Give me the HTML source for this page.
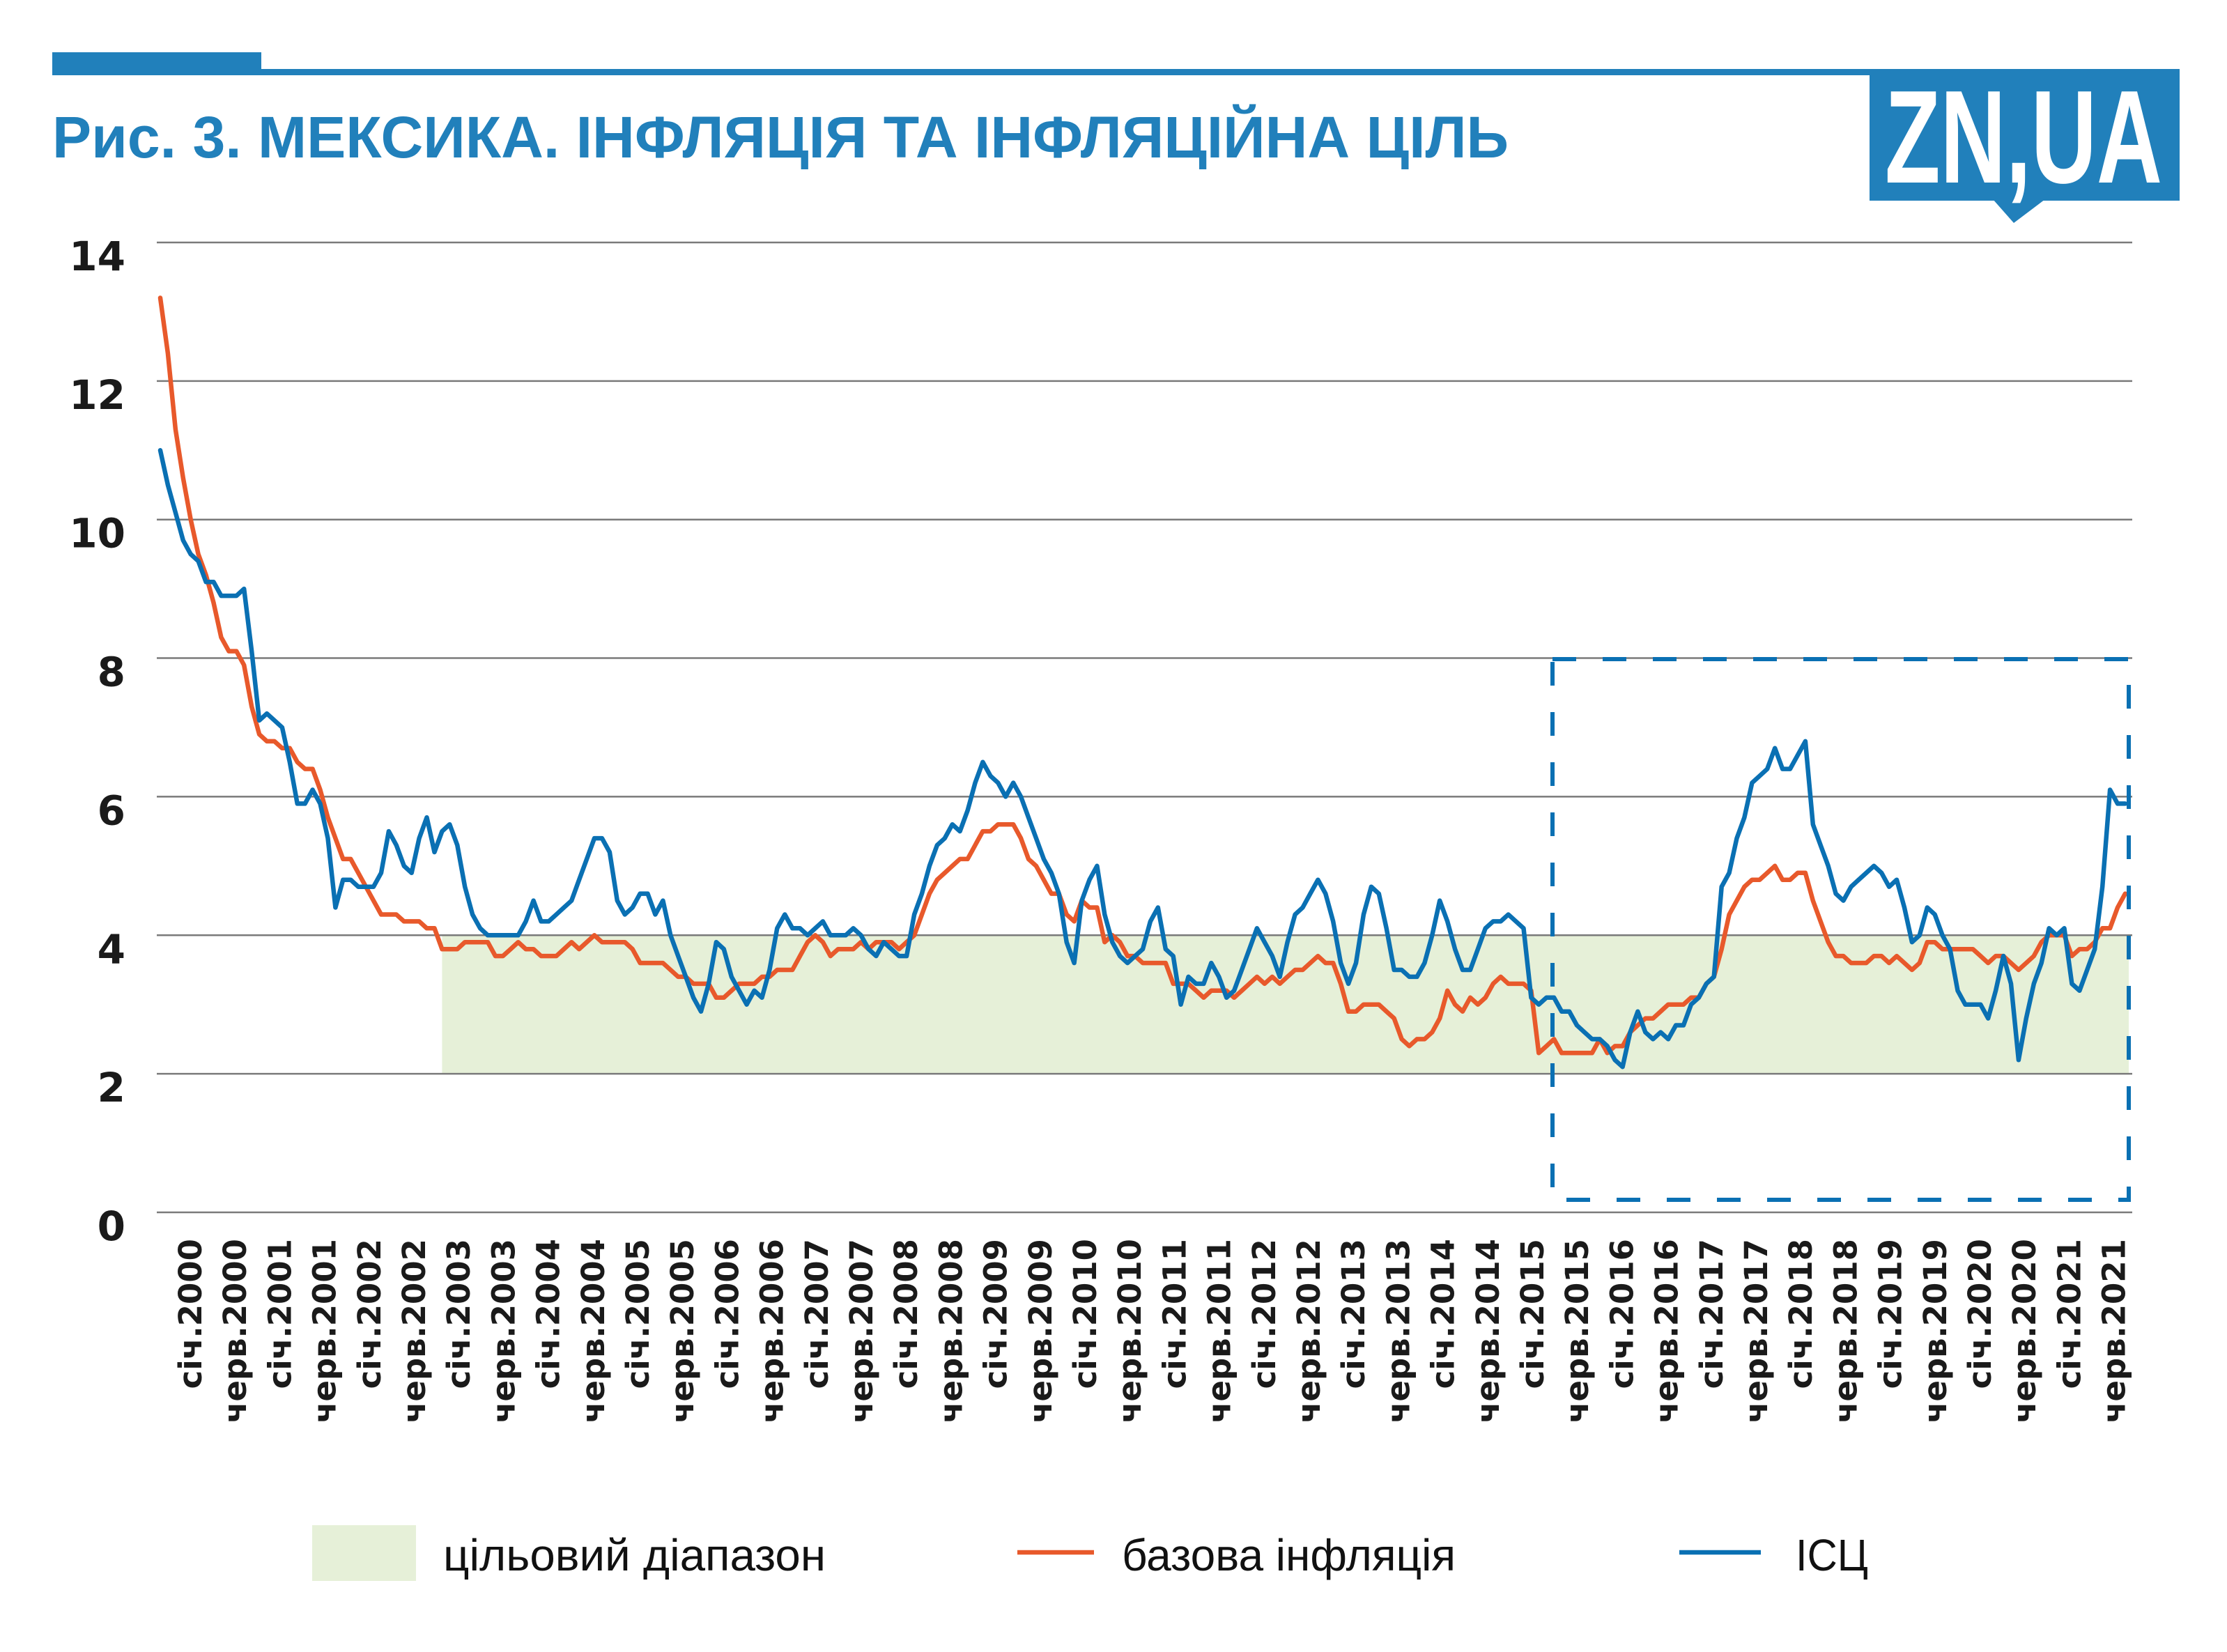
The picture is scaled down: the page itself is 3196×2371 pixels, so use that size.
<!DOCTYPE html>
<html><head><meta charset="utf-8">
<style>
html,body{margin:0;padding:0;background:#fff;}
svg{display:block;}
</style></head>
<body>
<svg id="chart" xmlns="http://www.w3.org/2000/svg" width="3196" height="2371" viewBox="0 0 3196 2371">
  <rect width="3196" height="2371" fill="#fff"/>
  <!-- header -->
  <rect x="75" y="75" width="300" height="33" fill="#2180bb"/>
  <rect x="375" y="99" width="2310" height="9" fill="#2180bb"/>
  <g>
    <rect x="2683" y="99" width="445" height="189" fill="#2180bb"/>
    <polygon points="2860,286 2935,286 2890,320" fill="#2180bb"/>
    <text x="2705" y="262" font-family="'Liberation Sans', sans-serif" font-weight="bold" font-size="190" fill="#fff" textLength="398" lengthAdjust="spacingAndGlyphs">ZN,UA</text>
  </g>
  <text x="75" y="226" font-family="'Liberation Sans','DejaVu Sans',sans-serif" font-weight="bold" font-size="84" fill="#2180bb" textLength="2090" lengthAdjust="spacingAndGlyphs">Рис. 3. МЕКСИКА. ІНФЛЯЦІЯ ТА ІНФЛЯЦІЙНА ЦІЛЬ</text>

  <g id="band"></g>
  <g id="grid"></g>
  <g id="ylabels"></g>
  <g id="xlabels"></g>
  <g id="series"></g>
  <rect x="2228" y="946" width="827" height="776" fill="none" stroke="#0a70b3" stroke-width="6" stroke-dasharray="34 38"/>

  <!-- legend -->
  <g>
    <g>
      <rect x="448" y="2189" width="149" height="80" fill="#e6f0d8"/>
      <text x="636" y="2254" font-family="'Liberation Sans','DejaVu Sans',sans-serif" font-size="64" fill="#111" textLength="549" lengthAdjust="spacingAndGlyphs">цільовий діапазон</text>
    </g>
    <g>
      <line x1="1460" y1="2228" x2="1570" y2="2228" stroke="#e8592b" stroke-width="6.5"/>
      <text x="1610" y="2254" font-family="'Liberation Sans','DejaVu Sans',sans-serif" font-size="64" fill="#111" textLength="479" lengthAdjust="spacingAndGlyphs">базова інфляція</text>
    </g>
    <g>
      <line x1="2410" y1="2228" x2="2527" y2="2228" stroke="#0a70b3" stroke-width="6.5"/>
      <text x="2577" y="2254" font-family="'Liberation Sans','DejaVu Sans',sans-serif" font-size="64" fill="#111" textLength="104" lengthAdjust="spacingAndGlyphs">ІСЦ</text>
    </g>
  </g>
</svg>
<script>
const yTicks = [0, 2, 4, 6, 8, 10, 12, 14];
const xTickLabels = [];
const years = [2000,2001,2002,2003,2004,2005,2006,2007,2008,2009,2010,2011,2012,2013,2014,2015,2016,2017,2018,2019,2020,2021];
const bandLow = 2;
const bandHigh = 4;
const bandStartIndex = 37;
const cpi = [
11.0,10.5,10.1,9.7,9.5,9.4,9.1,9.1,8.9,8.9,8.9,9.0,
8.1,7.1,7.2,7.1,7.0,6.5,5.9,5.9,6.1,5.9,5.4,4.4,
4.8,4.8,4.7,4.7,4.7,4.9,5.5,5.3,5.0,4.9,5.4,5.7,
5.2,5.5,5.6,5.3,4.7,4.3,4.1,4.0,4.0,4.0,4.0,4.0,
4.2,4.5,4.2,4.2,4.3,4.4,4.5,4.8,5.1,5.4,5.4,5.2,
4.5,4.3,4.4,4.6,4.6,4.3,4.5,4.0,3.7,3.4,3.1,2.9,
3.3,3.9,3.8,3.4,3.2,3.0,3.2,3.1,3.5,4.1,4.3,4.1,
4.1,4.0,4.1,4.2,4.0,4.0,4.0,4.1,4.0,3.8,3.7,3.9,
3.8,3.7,3.7,4.3,4.6,5.0,5.3,5.4,5.6,5.5,5.8,6.2,
6.5,6.3,6.2,6.0,6.2,6.0,5.7,5.4,5.1,4.9,4.6,3.9,
3.6,4.5,4.8,5.0,4.3,3.9,3.7,3.6,3.7,3.8,4.2,4.4,
3.8,3.7,3.0,3.4,3.3,3.3,3.6,3.4,3.1,3.2,3.5,3.8,
4.1,3.9,3.7,3.4,3.9,4.3,4.4,4.6,4.8,4.6,4.2,3.6,
3.3,3.6,4.3,4.7,4.6,4.1,3.5,3.5,3.4,3.4,3.6,4.0,
4.5,4.2,3.8,3.5,3.5,3.8,4.1,4.2,4.2,4.3,4.2,4.1,
3.1,3.0,3.1,3.1,2.9,2.9,2.7,2.6,2.5,2.5,2.4,2.2,
2.1,2.6,2.9,2.6,2.5,2.6,2.5,2.7,2.7,3.0,3.1,3.3,
3.4,4.7,4.9,5.4,5.7,6.2,6.3,6.4,6.7,6.4,6.4,6.6,
6.8,5.6,5.3,5.0,4.6,4.5,4.7,4.8,4.9,5.0,4.9,4.7,
4.8,4.4,3.9,4.0,4.4,4.3,4.0,3.8,3.2,3.0,3.0,3.0,
2.8,3.2,3.7,3.3,2.2,2.8,3.3,3.6,4.1,4.0,4.1,3.3,
3.2,3.5,3.8,4.7,6.1,5.9,5.9
];
const core = [
13.2,12.4,11.3,10.6,10.0,9.5,9.2,8.8,8.3,8.1,8.1,7.9,
7.3,6.9,6.8,6.8,6.7,6.7,6.5,6.4,6.4,6.1,5.7,5.4,
5.1,5.1,4.9,4.7,4.5,4.3,4.3,4.3,4.2,4.2,4.2,4.1,
4.1,3.8,3.8,3.8,3.9,3.9,3.9,3.9,3.7,3.7,3.8,3.9,
3.8,3.8,3.7,3.7,3.7,3.8,3.9,3.8,3.9,4.0,3.9,3.9,
3.9,3.9,3.8,3.6,3.6,3.6,3.6,3.5,3.4,3.4,3.3,3.3,
3.3,3.1,3.1,3.2,3.3,3.3,3.3,3.4,3.4,3.5,3.5,3.5,
3.7,3.9,4.0,3.9,3.7,3.8,3.8,3.8,3.9,3.8,3.9,3.9,
3.9,3.8,3.9,4.0,4.3,4.6,4.8,4.9,5.0,5.1,5.1,5.3,
5.5,5.5,5.6,5.6,5.6,5.4,5.1,5.0,4.8,4.6,4.6,4.3,
4.2,4.5,4.4,4.4,3.9,4.0,3.9,3.7,3.7,3.6,3.6,3.6,
3.6,3.3,3.3,3.3,3.2,3.1,3.2,3.2,3.2,3.1,3.2,3.3,
3.4,3.3,3.4,3.3,3.4,3.5,3.5,3.6,3.7,3.6,3.6,3.3,
2.9,2.9,3.0,3.0,3.0,2.9,2.8,2.5,2.4,2.5,2.5,2.6,
2.8,3.2,3.0,2.9,3.1,3.0,3.1,3.3,3.4,3.3,3.3,3.3,
3.2,2.3,2.4,2.5,2.3,2.3,2.3,2.3,2.3,2.5,2.3,2.4,
2.4,2.6,2.7,2.8,2.8,2.9,3.0,3.0,3.0,3.1,3.1,3.3,
3.4,3.8,4.3,4.5,4.7,4.8,4.8,4.9,5.0,4.8,4.8,4.9,
4.9,4.5,4.2,3.9,3.7,3.7,3.6,3.6,3.6,3.7,3.7,3.6,
3.7,3.6,3.5,3.6,3.9,3.9,3.8,3.8,3.8,3.8,3.8,3.7,
3.6,3.7,3.7,3.6,3.5,3.6,3.7,3.9,4.0,4.0,4.0,3.7,
3.8,3.8,3.9,4.1,4.1,4.4,4.6
];
years.forEach(y => { xTickLabels.push('січ.' + y); xTickLabels.push('черв.' + y); });

const NS = 'http://www.w3.org/2000/svg';
const X0 = 230, DX = 10.93, Y0 = 1740, PPU = 99.43;
const PLOT_L = 225, PLOT_R = 3060, BAND_R = 3055;
function xScale(i) { return X0 + i * DX; }
function yScale(v) { return Y0 - v * PPU; }
function mk(tag, attrs) { const e = document.createElementNS(NS, tag); for (const k in attrs) e.setAttribute(k, attrs[k]); return e; }

// band
const band = document.getElementById('band');
const br = mk('rect', {x: xScale(bandStartIndex), y: yScale(bandHigh), width: BAND_R - xScale(bandStartIndex), height: yScale(bandLow) - yScale(bandHigh), fill: '#e6f0d8'});


band.appendChild(br);

// grid + y labels
const grid = document.getElementById('grid');
const yl = document.getElementById('ylabels');
yTicks.forEach(t => {
  const l = mk('line', {x1: PLOT_L, x2: PLOT_R, y1: yScale(t), y2: yScale(t), stroke: '#7a7a7a', 'stroke-width': 2.5});
  
  
  grid.appendChild(l);
  const tx = mk('text', {x: 180, y: yScale(t) + 40, 'text-anchor': 'end', 'font-family': "'DejaVu Sans', sans-serif", 'font-weight': 'bold', 'font-size': 58, fill: '#1a1a1a'});
  tx.textContent = t;
  
  
  yl.appendChild(tx);
});

// x labels
const xl = document.getElementById('xlabels');
const LX0 = 272, LDX = 64.2;
xTickLabels.forEach((lab, k) => {
  const cx = LX0 + k * LDX + 17;
  const tx = mk('text', {x: 0, y: 0, transform: 'translate(' + cx + ',1778) rotate(-90)', 'text-anchor': 'end', 'font-family': "'DejaVu Sans', sans-serif", 'font-weight': 'bold', 'font-size': 45, fill: '#1a1a1a'});
  tx.textContent = lab;
  
  
  xl.appendChild(tx);
});

// series
const ser = document.getElementById('series');
function path(arr) { return arr.map((v, i) => (i ? 'L' : 'M') + xScale(i).toFixed(1) + ',' + yScale(v).toFixed(1)).join(' '); }
const pc = mk('path', {d: path(core), fill: 'none', stroke: '#e8592b', 'stroke-width': 6.5, 'stroke-linejoin': 'round', 'stroke-linecap': 'round'});


ser.appendChild(pc);
const pb = mk('path', {d: path(cpi), fill: 'none', stroke: '#0a70b3', 'stroke-width': 6.5, 'stroke-linejoin': 'round', 'stroke-linecap': 'round'});


ser.appendChild(pb);
</script>
</body></html>
